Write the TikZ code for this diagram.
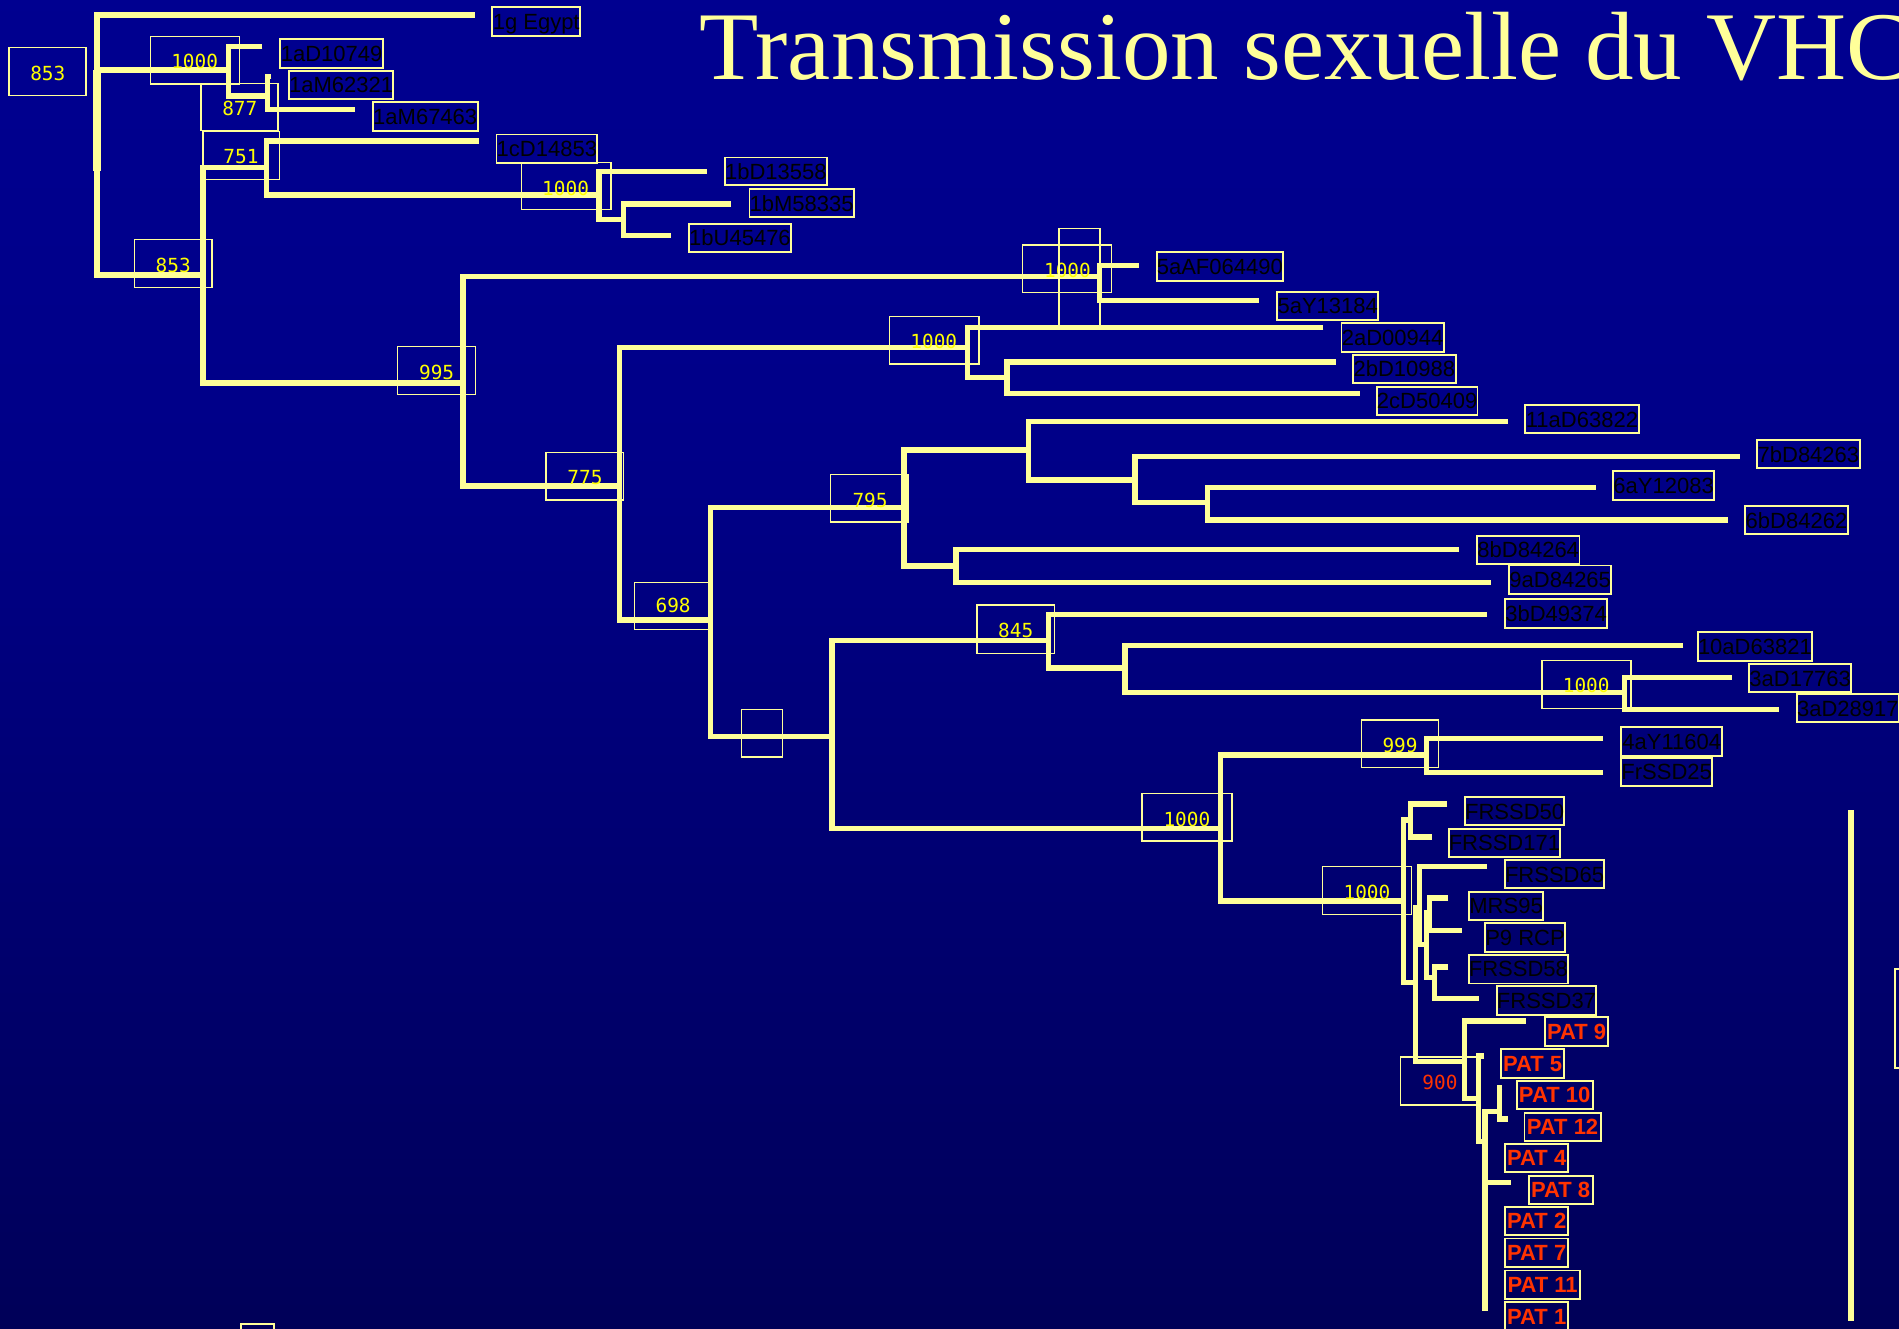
\documentclass[tikz,border=0pt]{standalone}
\usepackage{fontspec}
\setmainfont{Liberation Serif}
\newfontfamily\labfont{Liberation Sans}
\newfontfamily\numfont{DejaVu Sans Mono}
\usetikzlibrary{fit}

\definecolor{bgtop}{RGB}{0,0,155}
\definecolor{bgmid}{RGB}{0,0,136}
\definecolor{bgbot}{RGB}{0,0,52}
\definecolor{treeyel}{RGB}{255,255,153}
\definecolor{bootyel}{RGB}{255,255,0}
\definecolor{patred}{RGB}{255,51,0}

\pgfdeclareverticalshading{skyfade}{100bp}{color(0bp)=(bgbot); color(58bp)=(bgmid); color(100bp)=(bgtop)}

\tikzset{
  branch/.style={draw=treeyel, line width=2.7pt, line join=miter, line cap=butt},
  tipbox/.style={draw=treeyel, line width=0.9pt, inner sep=0pt},
  tiptext/.style={font=\labfont\fontsize{11}{11}\selectfont, text=black, inner sep=0pt, text height=7.9pt, text depth=0pt},
  pattext/.style={font=\labfont\bfseries\fontsize{11}{11}\selectfont, text=patred, inner sep=0pt, text height=7.9pt, text depth=0pt},
  bootframe/.style={draw=treeyel, line width=0.65pt, inner sep=0pt},
  boottext/.style={font=\numfont\fontsize{9.7}{9.7}\selectfont, text=bootyel, inner sep=0pt, text height=7pt, text depth=0pt},
}

% tip label: name, corner, corner, text
\newcommand\tiplab[6]{\node[tipbox, fit={(#2,#3) (#4,#5)}, label={[tiptext]center:#6}] (#1) {};}
\newcommand\patlab[6]{\node[tipbox, fit={(#2,#3) (#4,#5)}, label={[pattext]center:#6}] (#1) {};}
% bootstrap frame and value
\newcommand\bootlab[8]{\node[bootframe, fit={(#2,#3) (#4,#5)}] (#1) {};
  \node[boottext] (#1-v) at (#6,#7) {#8};}
% two-child bracket: node, upper child, lower child
\newcommand\clade[3]{\draw[branch] (#2) -- (#2 -| #1) -- (#3 -| #1) -- (#3);}

\begin{document}
\begin{tikzpicture}[x=0.60555pt, y=-0.60555pt]
\useasboundingbox (0,0) rectangle (1568,1097);
\clip (0,0) rectangle (1568,1097);
\shade[shading=skyfade] (0,0) rectangle (1568,1097);

% title
\node[anchor=base west, inner sep=0pt, text=treeyel, font=\fontsize{48.5}{48.5}\selectfont] (title) at (577.5,65.5) {Transmission sexuelle du VHC};

% internal nodes (x of the vertical bar, y where the parent joins)
\coordinate (root) at (80,120);
\coordinate (rootlow) at (80,141);
\coordinate (n1000a) at (188.7,57.8);
\coordinate (n877) at (221,79.3);
\coordinate (n853b) at (167.7,227);
\coordinate (n751) at (220,138.2);
\coordinate (n1000b) at (494.6,161);
\coordinate (n1bx) at (514.9,181);
\coordinate (n995) at (382.2,316.3);
\coordinate (n5a) at (907.6,228.5);
\coordinate (n775) at (511.3,401.3);
\coordinate (n2) at (799,286.8);
\coordinate (n2bc) at (831.5,311.5);
\coordinate (n698) at (586.5,512);
\coordinate (n795) at (746.5,418.8);
\coordinate (n11) at (849,371.6);
\coordinate (n76) at (937,396.4);
\coordinate (n6) at (997,415);
\coordinate (n89) at (789.5,467.5);
\coordinate (nX) at (687,608);
\coordinate (n845) at (865.5,529);
\coordinate (n10) at (929,551.5);
\coordinate (n3a) at (1341.5,572);
\coordinate (n4a) at (1008,684.2);
\coordinate (n999) at (1177.6,623.4);
\coordinate (nBig) at (1158.7,744);
\coordinate (n50) at (1164.5,677);
\coordinate (nC) at (1169,811.4);
\coordinate (n65) at (1172.3,749.5);
\coordinate (nM) at (1177.6,779.7);
\coordinate (nMRS) at (1180.4,753.7);
\coordinate (nF58) at (1184.5,807);
\coordinate (n900) at (1209,876.3);
\coordinate (nQ) at (1221,907);
\coordinate (nR) at (1226,942.7);
\coordinate (nPQ) at (1238,918);

% branch tips
\coordinate (e1g) at (392,12.4);
\coordinate (e1aD) at (216.7,38.5);
\coordinate (e1aM62) at (224,63.3);
\coordinate (e1aM67) at (293,90.3);
\coordinate (e1cD) at (395.5,116.4);
\coordinate (e1bD) at (583.5,141.7);
\coordinate (e1bM) at (603.6,168.4);
\coordinate (e1bU) at (553.8,194.6);
\coordinate (e5aAF) at (940.3,219.4);
\coordinate (e5aY) at (1039.5,248);
\coordinate (e2aD) at (1092.6,270.5);
\coordinate (e2bD) at (1103,299);
\coordinate (e2cD) at (1123,324.8);
\coordinate (e11a) at (1244.8,348.2);
\coordinate (e7b) at (1436.6,377);
\coordinate (e6a) at (1317.6,402.7);
\coordinate (e6b) at (1426.6,429.4);
\coordinate (e8b) at (1204.7,453.6);
\coordinate (e9a) at (1231.4,481.1);
\coordinate (e3b) at (1227.8,507.3);
\coordinate (e10a) at (1390,533.1);
\coordinate (e3a1) at (1429.7,559.3);
\coordinate (e3a2) at (1469,585.7);
\coordinate (e4a) at (1323.6,609.6);
\coordinate (eFr25) at (1323.6,638);
\coordinate (eF50) at (1194.8,663.7);
\coordinate (eF171) at (1182.7,691);
\coordinate (eF65) at (1228,715.6);
\coordinate (eMRS) at (1196,741.4);
\coordinate (eP9R) at (1207.5,768.5);
\coordinate (eF58) at (1196,798.4);
\coordinate (eF37) at (1221.6,824.3);
\coordinate (eP9) at (1259.7,843);
\coordinate (eP5) at (1225.5,872);
\coordinate (eP10) at (1240.5,898);
\coordinate (eP12) at (1245,924);
\coordinate (eP8) at (1247.6,976.5);
\coordinate (eP1) at (1228.5,1080);

% the tree
\draw[branch] (e1g) -- (e1g -| root) -- (n853b -| root) -- (n853b);
\draw[branch] (root |- n1000a) -- (n1000a);
\draw[branch, line width=4.2pt] (root |- n1000a) -- (rootlow);
\clade{n1000a}{e1aD}{n877}
\clade{n877}{e1aM62}{e1aM67}
\clade{n853b}{n751}{n995}
\clade{n751}{e1cD}{n1000b}
\clade{n1000b}{e1bD}{n1bx}
\clade{n1bx}{e1bM}{e1bU}
\clade{n995}{n5a}{n775}
\clade{n5a}{e5aAF}{e5aY}
\clade{n775}{n2}{n698}
\clade{n2}{e2aD}{n2bc}
\clade{n2bc}{e2bD}{e2cD}
\clade{n698}{n795}{nX}
\clade{n795}{n11}{n89}
\clade{n11}{e11a}{n76}
\clade{n76}{e7b}{n6}
\clade{n6}{e6a}{e6b}
\clade{n89}{e8b}{e9a}
\clade{nX}{n845}{n4a}
\clade{n845}{e3b}{n10}
\clade{n10}{e10a}{n3a}
\clade{n3a}{e3a1}{e3a2}
\clade{n4a}{n999}{nBig}
\clade{n999}{e4a}{eFr25}
\clade{nBig}{n50}{nC}
\clade{n50}{eF50}{eF171}
\clade{nC}{n65}{n900}
\clade{n65}{eF65}{nM}
\clade{nM}{nMRS}{nF58}
\clade{nMRS}{eMRS}{eP9R}
\clade{nF58}{eF58}{eF37}
\clade{n900}{eP9}{nQ}
\clade{nQ}{eP5}{nR}
\clade{nR}{nPQ}{eP1}
\draw[branch] (eP8 -| nR) -- (eP8);
\clade{nPQ}{eP10}{eP12}

% scale bar at the right
\coordinate (barTop) at (1528.5,669);
\coordinate (barBot) at (1528.5,1090.8);
\draw[branch, line width=3pt] (barTop) -- (barBot);

% bootstrap values
\bootlab{b853a}{7.4}{39.4}{71}{79}{39.5}{61}{853}
\bootlab{b1000a}{124}{30.3}{198}{69.4}{160.7}{51}{1000}
\bootlab{b877}{165.9}{68.8}{229.6}{108}{198}{89.5}{877}
\bootlab{b751}{167.7}{108.7}{231}{148}{199}{129.4}{751}
\bootlab{b853b}{111.3}{197.6}{175}{237.5}{143}{219}{853}
\bootlab{b1000b}{430.7}{134}{504.5}{172.8}{467}{155.5}{1000}
\bootlab{b995}{328.4}{286.3}{392.6}{325.6}{360.5}{307.5}{995}
\bootlab{b1000c}{844.4}{202.3}{918}{241.4}{881.4}{223.5}{1000}
\node[bootframe, fit={(874.5,188.8) (908.3,269.2)}] (b1000c-tall) {};
\bootlab{b775}{450.8}{373.5}{515}{412.8}{483}{394.6}{775}
\bootlab{b1000d}{734.3}{261.5}{808.4}{300.6}{771}{282}{1000}
\bootlab{b698}{523.8}{481}{585.8}{520}{555.8}{500}{698}
\bootlab{b795}{686}{392}{749.8}{431}{718.4}{412.9}{795}
\node[bootframe, fit={(612,585.6) (646,625)}] (bX) {};
\bootlab{b845}{806.7}{499.6}{870.6}{539.4}{838.7}{520.7}{845}
\bootlab{b1000e}{1273.1}{545.5}{1346.6}{584.9}{1309.7}{566.4}{1000}
\bootlab{b999}{1124.4}{594.5}{1188}{634}{1156}{615.7}{999}
\bootlab{b1000f}{943}{655}{1017.3}{694.4}{980}{676.5}{1000}
\bootlab{b1000g}{1092.2}{715.6}{1165.7}{755}{1128.7}{737}{1000}
\node[bootframe, fit={(1156.4,872.8) (1220,912.4)}] (b900) {};
\node[boottext, text=patred] (b900-v) at (1189,894) {900};

% sequence labels
\tiplab{t1g}{406.5}{6}{479}{29.7}{1g Egypt}
\tiplab{t1aD}{231.5}{32.5}{316.2}{56.4}{1aD10749}
\tiplab{t1aM62}{238.5}{58.4}{324.7}{82}{1aM62321}
\tiplab{t1aM67}{307.8}{84.5}{394.4}{108.2}{1aM67463}
\tiplab{t1cD}{409.9}{111}{493.2}{134.3}{1cD14853}
\tiplab{t1bD}{598.6}{130}{682.6}{152.8}{1bD13558}
\tiplab{t1bM}{618.9}{156}{705}{179.4}{1bM58335}
\tiplab{t1bU}{569}{185}{653}{208}{1bU45476}
\tiplab{t5aAF}{955}{208.3}{1059.4}{231.8}{5aAF064490}
\tiplab{t5aY}{1054.6}{240.8}{1138}{264.5}{5aY13184}
\tiplab{t2aD}{1107.7}{267}{1192}{290.6}{2aD00944}
\tiplab{t2bD}{1117.2}{292.8}{1202}{316.5}{2bD10988}
\tiplab{t2cD}{1136.7}{319.3}{1220}{342.7}{2cD50409}
\tiplab{t11a}{1259}{334.4}{1353.4}{357.8}{11aD63822}
\tiplab{t7b}{1450.8}{363.3}{1535.6}{386.7}{7bD84263}
\tiplab{t6a}{1332}{389.2}{1415.3}{412.8}{6aY12083}
\tiplab{t6b}{1441}{417.8}{1525.7}{441.2}{6bD84262}
\tiplab{t8b}{1219.5}{442.3}{1304.2}{466}{8bD84264}
\tiplab{t9a}{1246}{467}{1330.5}{490.5}{9aD84265}
\tiplab{t3b}{1242.7}{494.9}{1327}{518.3}{3bD49374}
\tiplab{t10a}{1402}{522}{1496}{545.5}{10aD63821}
\tiplab{t3a1}{1444.4}{548.3}{1528.4}{571.6}{3aD17763}
\tiplab{t3a2}{1484}{573}{1567.5}{596.4}{3aD28917}
\tiplab{t4a}{1338.7}{600.3}{1422}{624}{4aY11604}
\tiplab{tFr25}{1338.7}{625.6}{1413.6}{649}{FrSSD25}
\tiplab{tF50}{1209.6}{658}{1291.6}{681.5}{FRSSD50}
\tiplab{tF171}{1196.4}{684.5}{1288}{707.6}{FRSSD171}
\tiplab{tF65}{1242.7}{710.4}{1324.4}{733.5}{FRSSD65}
\tiplab{tMRS}{1212.8}{736.4}{1274.3}{759.5}{MRS95}
\tiplab{tP9R}{1226.1}{762.4}{1292.3}{786}{P9 RCP}
\tiplab{tF58}{1212.8}{788.3}{1294.6}{812}{FRSSD58}
\tiplab{tF37}{1235.8}{814}{1318}{838}{FRSSD37}
\patlab{pP9}{1275.6}{840}{1328}{864}{PAT 9}
\patlab{pP5}{1239.4}{866}{1291.6}{890}{PAT 5}
\patlab{pP10}{1252.3}{892.3}{1315}{915.9}{PAT 10}
\patlab{pP12}{1258.8}{918.8}{1321.6}{942}{PAT 12}
\patlab{pP4}{1242.7}{944.4}{1295}{967.8}{PAT 4}
\patlab{pP8}{1262.3}{970.7}{1315}{994}{PAT 8}
\patlab{pP2}{1242.7}{996.4}{1295}{1020}{PAT 2}
\patlab{pP7}{1242.7}{1022.6}{1295}{1046}{PAT 7}
\patlab{pP11}{1242.7}{1049}{1304.7}{1072.6}{PAT 11}
\patlab{pP1}{1242.7}{1075}{1295}{1098.6}{PAT 1}

% frames cut by the page edge
\node[tipbox, fit={(1565,800) (1610,882)}] (edgebox) {};
\node[tipbox, fit={(199,1093.5) (226,1120)}] (footbox) {};
\end{tikzpicture}
\end{document}
